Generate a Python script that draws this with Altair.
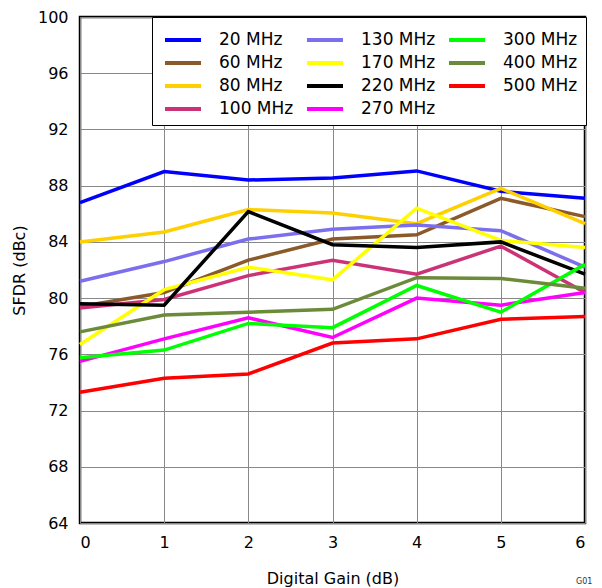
import altair as alt
import pandas as pd

gain = [0, 1, 2, 3, 4, 5, 6]
series_names = ["20 MHz", "60 MHz", "80 MHz", "100 MHz", "130 MHz", "170 MHz",
                "220 MHz", "270 MHz", "300 MHz", "400 MHz", "500 MHz"]
sfdr_20 = [86.8, 89.0, 88.4, 88.55, 89.05, 87.6, 87.1]
sfdr_60 = [79.4, 80.4, 82.7, 84.2, 84.5, 87.1, 85.8]
sfdr_80 = [84.0, 84.7, 86.3, 86.05, 85.3, 87.8, 85.3]
sfdr_100 = [79.3, 79.9, 81.6, 82.7, 81.7, 83.7, 80.4]
sfdr_130 = [81.2, 82.6, 84.2, 84.9, 85.2, 84.8, 82.2]
sfdr_170 = [76.7, 80.6, 82.2, 81.3, 86.4, 84.1, 83.6]
sfdr_220 = [79.6, 79.5, 86.15, 83.8, 83.6, 84.0, 81.7]
sfdr_270 = [75.5, 77.1, 78.6, 77.2, 80.0, 79.5, 80.4]
sfdr_300 = [75.75, 76.3, 78.2, 77.9, 80.9, 79.0, 82.4]
sfdr_400 = [77.6, 78.8, 79.0, 79.2, 81.45, 81.4, 80.7]
sfdr_500 = [73.3, 74.3, 74.6, 76.8, 77.1, 78.5, 78.7]
all_series = [sfdr_20, sfdr_60, sfdr_80, sfdr_100, sfdr_130, sfdr_170,
              sfdr_220, sfdr_270, sfdr_300, sfdr_400, sfdr_500]
colors = ["#0000FF", "#8B5A2B", "#FFD000", "#CC3377", "#7B6FEE", "#FFFF00",
          "#000000", "#FF00FF", "#00FF00", "#6B8A3A", "#FF0000"]
y_ticks = [64, 68, 72, 76, 80, 84, 88, 92, 96, 100]

rows = []
for k, (name, vals) in enumerate(zip(series_names, all_series)):
    for g, v in zip(gain, vals):
        rows.append({"gain": g, "freq": name, "sfdr": v, "ord": k})
df = pd.DataFrame(rows)

FONT = "DejaVu Sans"

lines = alt.Chart(df).mark_line(strokeWidth=3.5, strokeCap="butt").encode(
    x=alt.X("gain:Q", scale=alt.Scale(domain=[0, 6], nice=False),
            axis=alt.Axis(values=gain, title="Digital Gain (dB)", grid=True,
                          gridColor="#888888", gridWidth=1, ticks=False,
                          domain=False, labelFontSize=16, labelFont=FONT,
                          labelPadding=11, titleFontSize=16, titleFont=FONT,
                          titleFontWeight="normal", titlePadding=20,
                          labelColor="black", titleColor="black")),
    y=alt.Y("sfdr:Q", scale=alt.Scale(domain=[64, 100], nice=False),
            axis=alt.Axis(values=y_ticks, title="SFDR (dBc)", grid=True,
                          gridColor="#888888", gridWidth=1, ticks=False,
                          domain=False, labelFontSize=16, labelFont=FONT,
                          labelPadding=12, titleFontSize=16, titleFont=FONT,
                          titleFontWeight="normal", titlePadding=10,
                          labelColor="black", titleColor="black")),
    color=alt.Color("freq:N",
                    scale=alt.Scale(domain=series_names, range=colors),
                    legend=alt.Legend(orient="none", legendX=72, legendY=0,
                                      columns=3, title=None,
                                      symbolType="M-0.77,0H2.0",
                                      symbolStrokeWidth=4,
                                      symbolSize=676, symbolOffset=0,
                                      symbolFillColor="transparent",
                                      labelFontSize=17,
                                      labelFont=FONT, labelColor="black",
                                      labelOffset=29, columnPadding=4,
                                      rowPadding=0, padding=8,
                                      strokeColor="black", fillColor="white",
                                      labelLimit=200)),
    order=alt.Order("ord:Q"),
    detail="ord:Q",
)

note = alt.Chart(pd.DataFrame({"t": ["G01"]})).mark_text(
    fontSize=8, font=FONT, align="left", baseline="top", color="#333333"
).encode(x=alt.value(496), y=alt.value(561), text="t:N")

chart = alt.layer(lines, note).properties(
    width=505, height=506,
    autosize=alt.AutoSizeParams(type="none"),
    padding={"left": 72, "top": 9, "right": 9, "bottom": 72},
).configure_view(stroke="black", strokeWidth=2.5)

chart.save("out.html", embed_options={"renderer": "svg", "actions": False})
